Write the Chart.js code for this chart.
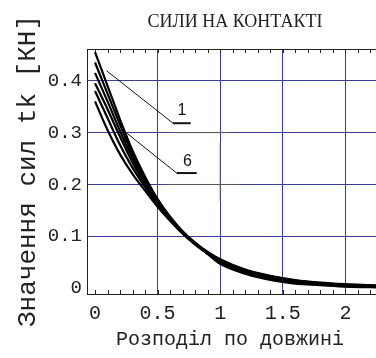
<!DOCTYPE html>
<html>
<head>
<meta charset="utf-8">
<script src="https://cdn.jsdelivr.net/npm/chart.js@4.4.1/dist/chart.umd.min.js"></script>
<style>
  html, body { margin: 0; padding: 0; background: #fff; }
  #wrap { width: 376px; height: 358px; position: relative; }
</style>
</head>
<body>
<div id="wrap"><canvas id="sily"></canvas></div>
<script>
// точки по довжині (x)
const xVals = [0, 0.1, 0.2, 0.3, 0.4, 0.5, 0.6, 0.7, 0.8, 0.9, 1.0, 1.2, 1.4, 1.6, 1.8, 2.0, 2.2, 2.3];

// сили tk для кривих 1..6
const kryva1 = [0.455, 0.39, 0.325, 0.265, 0.215, 0.172, 0.138, 0.11, 0.088, 0.07, 0.056, 0.036, 0.024, 0.016, 0.011, 0.008, 0.006, 0.005];
const kryva2 = [0.435, 0.375, 0.315, 0.258, 0.21, 0.168, 0.136, 0.108, 0.087, 0.069, 0.054, 0.035, 0.023, 0.015, 0.010, 0.007, 0.005, 0.004];
const kryva3 = [0.415, 0.36, 0.303, 0.25, 0.205, 0.165, 0.134, 0.107, 0.086, 0.068, 0.052, 0.033, 0.021, 0.013, 0.009, 0.006, 0.004, 0.003];
const kryva4 = [0.395, 0.345, 0.292, 0.242, 0.2, 0.163, 0.133, 0.106, 0.085, 0.067, 0.051, 0.032, 0.02, 0.012, 0.008, 0.005, 0.003, 0.003];
const kryva5 = [0.38, 0.328, 0.276, 0.232, 0.195, 0.16, 0.131, 0.106, 0.085, 0.067, 0.049, 0.030, 0.018, 0.011, 0.007, 0.004, 0.003, 0.002];
const kryva6 = [0.36, 0.305, 0.258, 0.22, 0.188, 0.157, 0.13, 0.105, 0.084, 0.066, 0.047, 0.028, 0.016, 0.009, 0.006, 0.003, 0.002, 0.001];

const vsiKryvi = [kryva1, kryva2, kryva3, kryva4, kryva5, kryva6];

// мітки осей
const yTicks = [0, 0.1, 0.2, 0.3, 0.4];
const xTicks = [0, 0.5, 1, 1.5, 2];

const gridColor = '#3c3c9a';
const mono = '"Liberation Mono", "DejaVu Sans Mono", monospace';

// виноски "1" і "6" (в координатах даних)
const vynosky = [
  { text: '1', from: [0.093, 0.419], to: [0.623, 0.318], end: 0.764, at: [0.695, 0.342] },
  { text: '6', from: [0.253, 0.299], to: [0.652, 0.222], end: 0.812, at: [0.739, 0.244] }
];

const decor = {
  id: 'decor',
  beforeDatasetsDraw(chart) {
    const { ctx, scales: { x, y } } = chart;
    ctx.save();
    ctx.strokeStyle = '#5a5a5a';
    ctx.lineWidth = 1;
    ctx.beginPath();
    ctx.moveTo(x.getPixelForValue(0.615), y.getPixelForValue(0.3));
    ctx.lineTo(x.getPixelForValue(1.062), y.getPixelForValue(0.3));
    ctx.moveTo(x.getPixelForValue(0.567), y.getPixelForValue(0.2));
    ctx.lineTo(x.getPixelForValue(1.15), y.getPixelForValue(0.2));
    ctx.moveTo(x.getPixelForValue(1), y.getPixelForValue(0.28));
    ctx.lineTo(x.getPixelForValue(1), y.getPixelForValue(0.167));
    ctx.stroke();
    ctx.restore();
  },
  afterDraw(chart) {
    const { ctx, chartArea: a, scales: { x, y } } = chart;
    ctx.save();
    // верхня рамка + дрібні риски
    ctx.strokeStyle = '#222';
    ctx.lineWidth = 1;
    ctx.beginPath();
    ctx.moveTo(a.left, a.top + 0.5);
    ctx.lineTo(a.right, a.top + 0.5);
    for (let i = 0; i <= 22; i++) {
      const px = Math.round(x.getPixelForValue(i / 10)) + 0.5;
      ctx.moveTo(px, a.top);
      ctx.lineTo(px, a.top + 4);
      ctx.moveTo(px, a.bottom);
      ctx.lineTo(px, a.bottom - 4);
    }
    ctx.stroke();

    // виноски
    ctx.fillStyle = '#111';
    ctx.font = '16px "Liberation Sans", Arial, sans-serif';
    ctx.textAlign = 'center';
    ctx.textBaseline = 'middle';
    vynosky.forEach(v => {
      ctx.strokeStyle = '#111';
      ctx.lineWidth = 1;
      ctx.beginPath();
      ctx.moveTo(x.getPixelForValue(v.from[0]), y.getPixelForValue(v.from[1]));
      ctx.lineTo(x.getPixelForValue(v.to[0]), y.getPixelForValue(v.to[1]));
      ctx.stroke();
      ctx.lineWidth = 2;
      ctx.beginPath();
      ctx.moveTo(x.getPixelForValue(v.to[0]), y.getPixelForValue(v.to[1]));
      ctx.lineTo(x.getPixelForValue(v.end), y.getPixelForValue(v.to[1]));
      ctx.stroke();
      ctx.fillText(v.text, x.getPixelForValue(v.at[0]), y.getPixelForValue(v.at[1]));
    });

    // заголовок
    ctx.fillStyle = '#222';
    ctx.font = '18px "Liberation Serif", serif';
    ctx.fillText('СИЛИ НА КОНТАКТІ', 235, 22);

    // підпис осі x
    ctx.font = '20px ' + mono;
    ctx.fillText('Розподіл по довжині', 230, 340);

    // підпис осі y
    ctx.translate(28, 171);
    ctx.rotate(-Math.PI / 2);
    ctx.font = '26px ' + mono;
    ctx.fillText('Значення сил tk [КН]', 0, 0);
    ctx.restore();
  }
};

new Chart(document.getElementById('sily'), {
  type: 'line',
  data: {
    datasets: vsiKryvi.map((k, n) => ({
      label: 'Крива ' + (n + 1),
      data: xVals.map((xv, i) => ({ x: xv, y: k[i] })),
      borderColor: '#000',
      borderWidth: 2.2,
      pointRadius: 0,
      cubicInterpolationMode: 'monotone',
      fill: false
    }))
  },
  options: {
    responsive: true,
    maintainAspectRatio: false,
    animation: false,
    layout: { padding: { top: 49, right: 0, left: 0, bottom: 0 } },
    plugins: {
      legend: { display: false },
      tooltip: { enabled: false }
    },
    scales: {
      x: {
        type: 'linear',
        min: -0.064,
        max: 2.244,
        afterFit: s => { s.height = 64; },
        afterBuildTicks: s => { s.ticks = xTicks.map(v => ({ value: v })); },
        ticks: {
          font: { family: mono, size: 20 }, color: '#222', padding: 8, maxRotation: 0,
          callback: v => String(v)
        },
        grid: {
          color: c => (c.tick && c.tick.value === 0 ? 'rgba(0,0,0,0)' : gridColor),
          lineWidth: 1,
          drawTicks: false
        },
        border: { color: '#222', width: 1 }
      },
      y: {
        min: -0.011,
        max: 0.461,
        afterFit: s => { s.width = 87; },
        afterBuildTicks: s => { s.ticks = yTicks.map(v => ({ value: v })); },
        ticks: {
          font: { family: mono, size: 19 }, color: '#222', padding: 5,
          callback: v => String(v)
        },
        grid: {
          color: c => (c.tick && c.tick.value === 0 ? 'rgba(0,0,0,0)' : gridColor),
          lineWidth: 1,
          drawTicks: false
        },
        border: { color: '#222', width: 1 }
      }
    }
  },
  plugins: [decor]
});
</script>
</body>
</html>
